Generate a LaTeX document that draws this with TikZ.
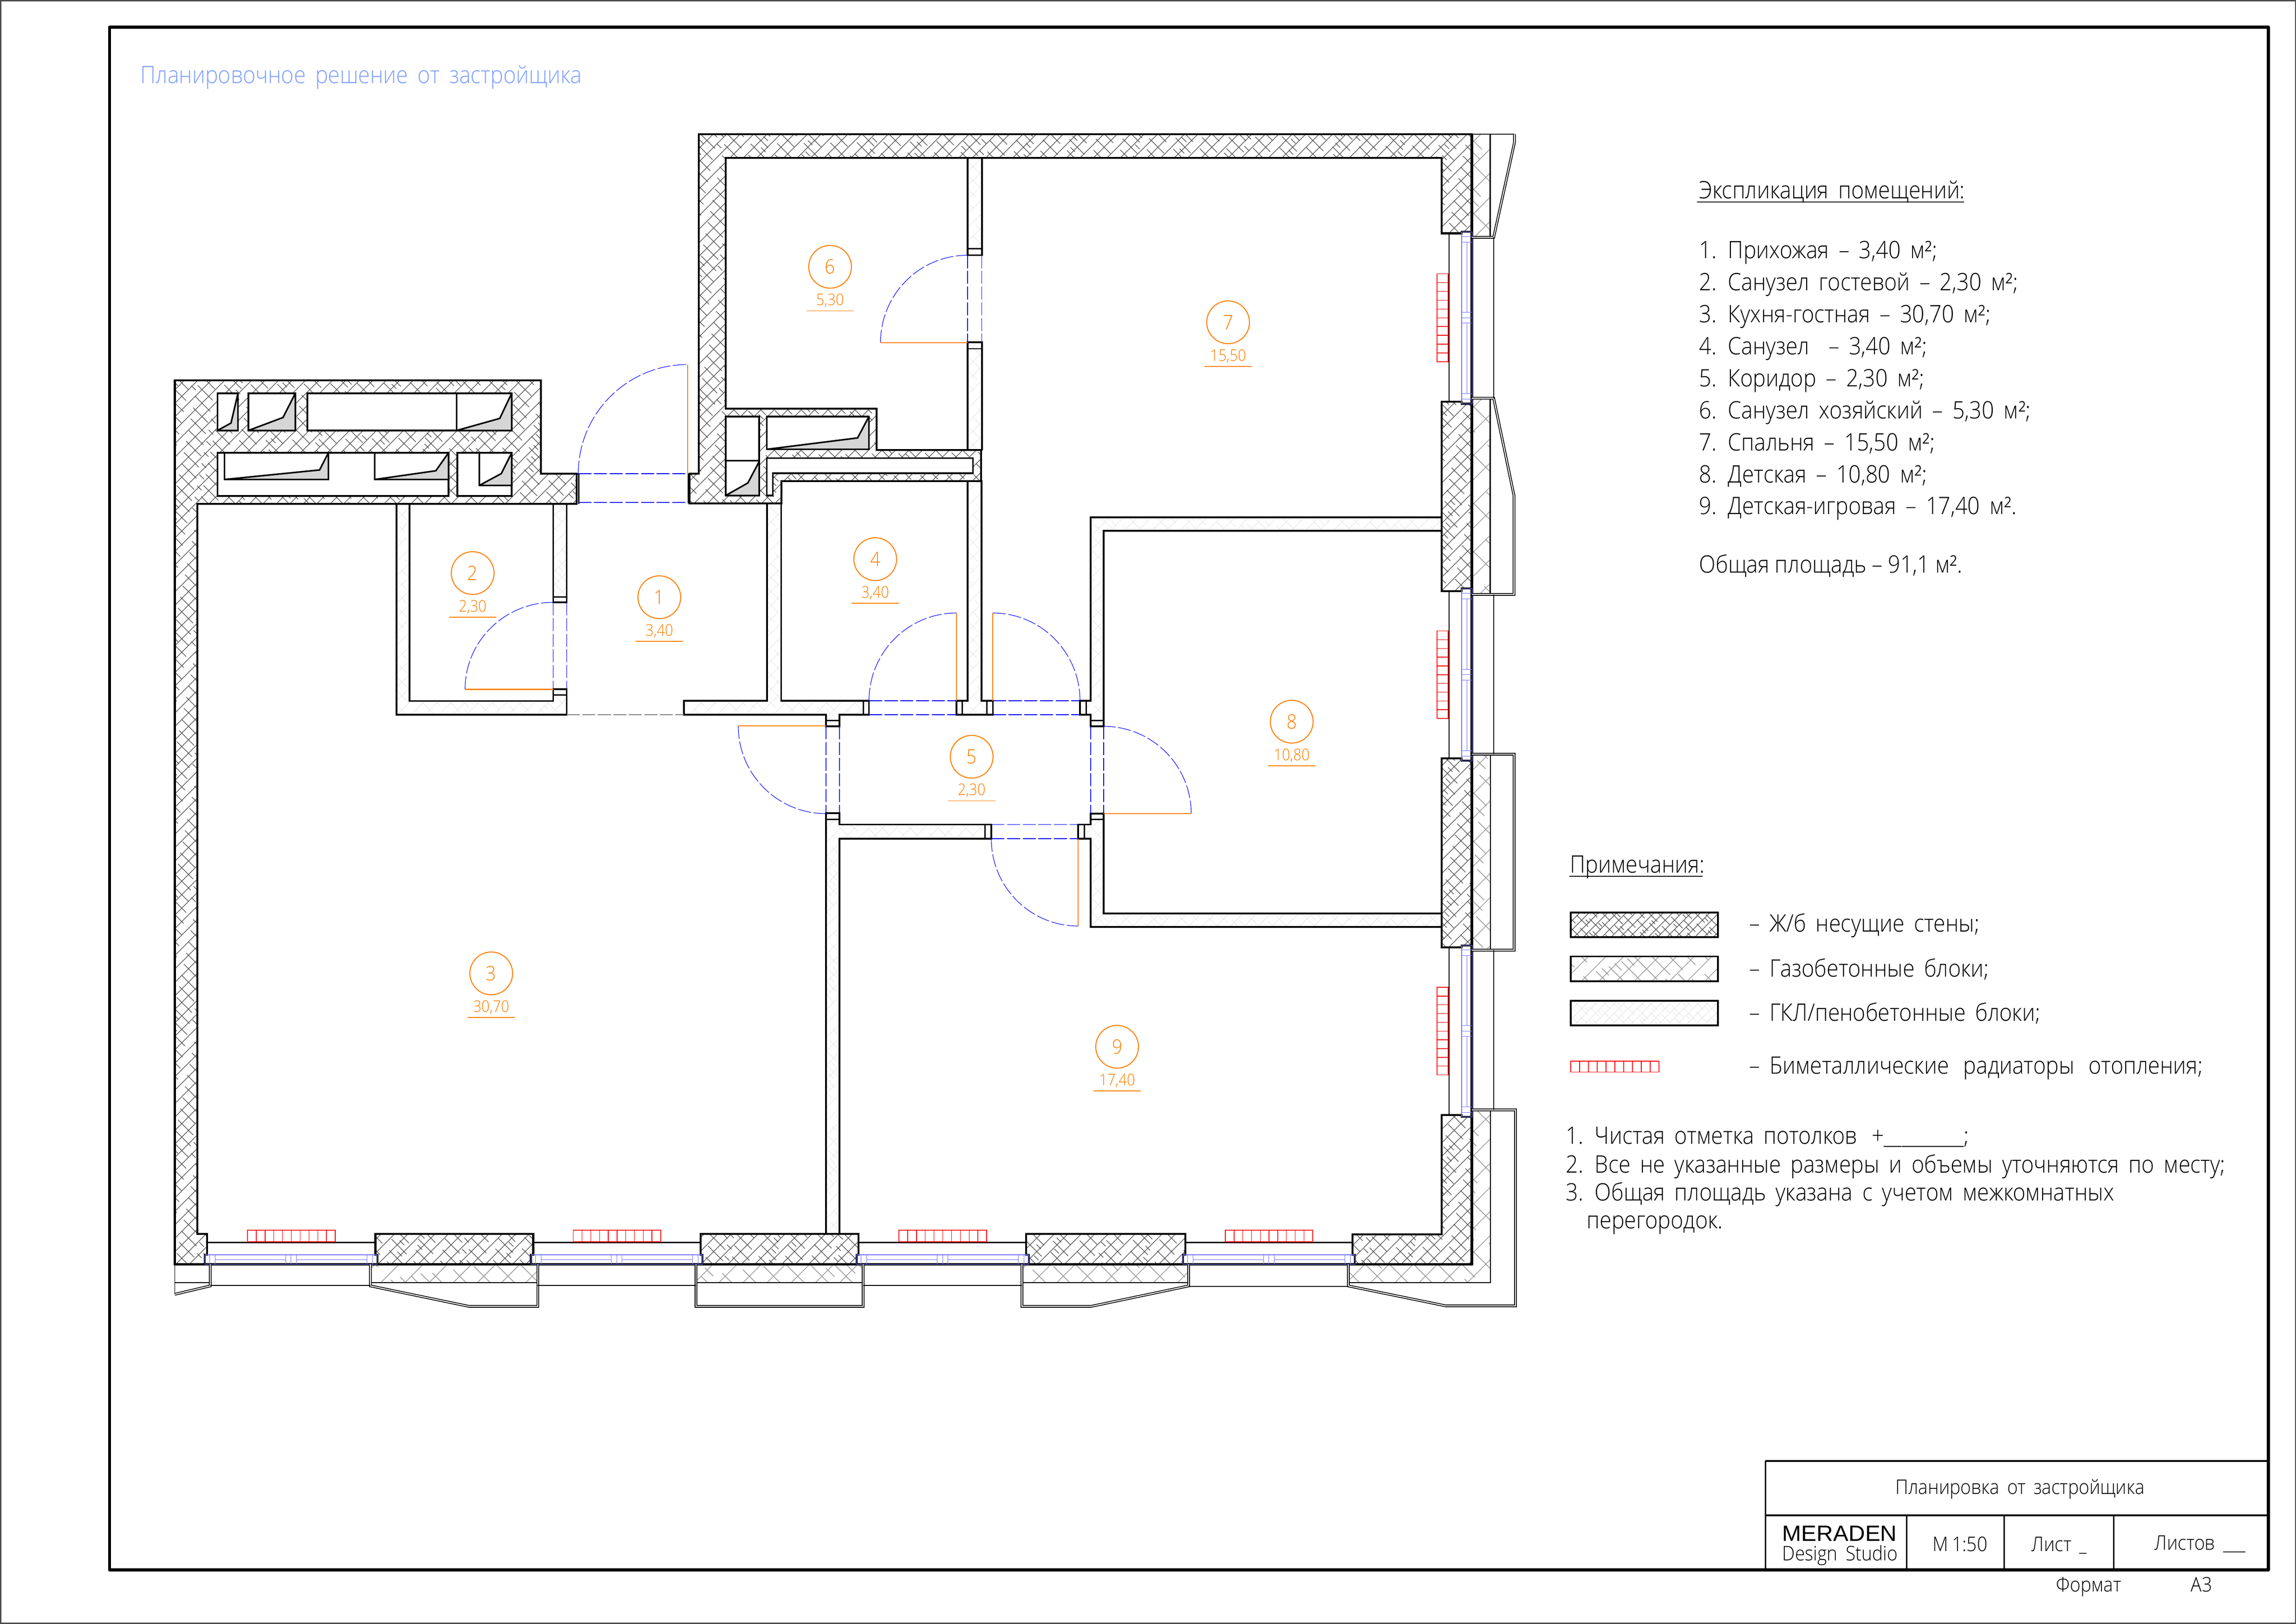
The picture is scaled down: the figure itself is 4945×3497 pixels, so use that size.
\documentclass[tikz,border=0pt]{standalone}
\usepackage{fontspec}
\usetikzlibrary{calc}
\setmainfont{Open Sans}[UprightFont=* Light,FakeStretch=0.9,WordSpace=1.7]
\newfontfamily\merfont{Liberation Sans}[FakeStretch=1.04]
\definecolor{orng}{HTML}{FF7F00}
\definecolor{winblue}{HTML}{7070FF}
\definecolor{dblue}{HTML}{0000FF}
\definecolor{ttlblue}{HTML}{80A0FF}
\tikzset{
  wallline/.style={line width=1.15pt,line join=miter},
  thinwall/.style={line width=1.05pt,line join=miter},
  jamb/.style={line width=.85pt},
  shaft/.style={line width=.95pt,fill=white,line join=miter},
  shade/.style={fill=gray!32,draw=none},
  balc/.style={line width=.5pt,double=white,double distance=.6pt,line join=miter},
  plainln/.style={line width=.55pt,draw=black},
  bandln/.style={line width=.65pt,draw=black},
  opening/.style={line width=.38pt,draw=dblue,dash pattern=on 8pt off 1.6pt},
  swing/.style={line width=.33pt,draw=dblue,dash pattern=on 8pt off 1.6pt},
  leaf/.style={line width=.75pt,draw=orng},
  rad/.style={line width=.4pt,draw=red},
  win/.style={line width=.25pt,draw=winblue},
  win2/.style={line width=.45pt,draw=winblue},
  txt/.style={anchor=base west,inner sep=0pt,font=\fontsize{14.7}{16}\selectfont},
  tbl/.style={anchor=base,inner sep=0pt,font=\fontsize{12.3}{14}\selectfont},
  roomc/.style={circle,draw=orng,line width=.6pt,minimum size=.92cm,inner sep=0pt,text=orng,font=\fontsize{12.2}{14}\selectfont},
  rooma/.style={inner sep=0pt,text=orng,font=\fontsize{9.8}{11}\selectfont},
  roomu/.style={draw=orng,line width=.5pt},
}
% hatching inside a box: x1 y1 x2 y2 spacing dash-on dash-off colour width
\newcommand\hatchbox[9]{%
  \pgfmathtruncatemacro\hn{((#4-#2)+(#3-#1))/#5+1}%
  \foreach \k in {0,...,\hn}{%
    \pgfmathsetmacro\ya{#2+\k*#5}%
    \pgfmathsetmacro\yb{\ya-(#3-#1)}%
    \draw[draw=#8,line width=#9] (#1,\ya)--(#3,\yb);
    \pgfmathsetmacro\yc{#4-\k*#5}%
    \pgfmathsetmacro\yd{\yc+(#3-#1)}%
    \pgfmathsetmacro\ph{mod(\k*17,#6+#7)}%
    \draw[draw=#8,line width=#9,dash pattern=on #6pt off #7pt,dash phase=\ph pt] (#1,\yc)--(#3,\yd);
    \pgfmathsetmacro\ye{\yc+#5/2}%
    \pgfmathsetmacro\yf{\ye+(#3-#1)}%
    \pgfmathsetmacro\tk{0.3*#6}%
    \pgfmathsetmacro\tg{2.2*#6}%
    \draw[draw=#8,line width=#9,dash pattern=on \tk pt off \tg pt,dash phase=\ph pt] (#1,\ye)--(#3,\yf);
  }}
\newcommand\swingarc[6]{\draw[swing] (#1,#2) .. controls ($(#1,#2)!0.5523!(#5,#6)$) and ($(#3,#4)!0.5523!(#5,#6)$) .. (#3,#4);}
\newcommand\radH[4]{%
  \draw[rad] (#1,#3) rectangle (#2,#4);
  \foreach \i in {1,...,9}{\pgfmathsetmacro\xx{#1+\i*(#2-#1)/10}\draw[rad] (\xx,#3)--(\xx,#4);}}
\newcommand\radV[2]{%
  \draw[rad] (3095,#1) rectangle (3119,#2);
  \foreach \i in {1,...,9}{\pgfmathsetmacro\yy{#1+\i*(#2-#1)/10}\draw[rad] (3095,\yy)--(3119,\yy);}}
\newcommand\winS[2]{%
  \pgfmathsetmacro\aa{#1+10}\pgfmathsetmacro\ab{#1+22}\pgfmathsetmacro\ba{#2-10}\pgfmathsetmacro\bb{#2-22}%
  \pgfmathsetmacro\mm{(#1+#2)/2}\pgfmathsetmacro\ma{\mm-11.5}\pgfmathsetmacro\mb{\mm+11.5}%
  \draw[win] (#1,2702) rectangle (#2,2722);
  \draw[win2] (#1,2702)--(#2,2702);
  \foreach \q in {\aa,\ab,\ba,\bb,\ma,\mm,\mb}{\draw[win] (\q,2702)--(\q,2722);}
  \draw[win2] (\ab,2712.5)--(\ma,2712.5) (\mb,2712.5)--(\bb,2712.5);}
\newcommand\winE[2]{%
  \pgfmathsetmacro\aa{#1+10}\pgfmathsetmacro\ab{#1+22}\pgfmathsetmacro\ba{#2-10}\pgfmathsetmacro\bb{#2-22}%
  \pgfmathsetmacro\mm{(#1+#2)/2}\pgfmathsetmacro\ma{\mm-11.5}\pgfmathsetmacro\mb{\mm+11.5}%
  \draw[win] (3148,#1) rectangle (3170,#2);
  \draw[win2] (3148,#1)--(3148,#2);
  \foreach \q in {\aa,\ab,\ba,\bb,\ma,\mm,\mb}{\draw[win] (3148,\q)--(3170,\q);}
  \draw[win] (3159,\ab)--(3159,\ma) (3159,\mb)--(3159,\bb);}
\newcommand\roomlabel[5]{%
  \node[roomc] (room#1) at (#2,#3) {#4};
  \node[rooma] (area#1) at ($(room#1.center)+(0,73)$) {#5};
  \draw[roomu] ($(room#1.center)+(-51,95)$)--($(room#1.center)+(51,95)$);}
% concrete bearing walls
\newcommand\concpath{
 (376.5,819)--(1165,819)--(1165,1020)--(1242,1020)--(1242,1085)--(424.6,1085)--(424.6,2657)--(446,2657)--(446,2702)--(441,2702)--(441,2722.5)--(376.5,2722.5)--cycle
 (1505,289)--(3170,289)--(3170,499)--(3148,499)--(3148,502.5)--(3105,502.5)--(3105,340)--(1563,340)--(1563,879.6)--(1888,879.6)--(1888,968.6)--(2113,968.6)--(2113,1036)--(1682.6,1036)--(1682.6,1084)--(1484.7,1084)--(1484.7,1020)--(1505,1020)--cycle
 (808.5,2657)--(1148.5,2657)--(1148.5,2702)--(1143.5,2702)--(1143.5,2722.5)--(812.6,2722.5)--(812.6,2702)--(808.5,2702)--cycle
 (1509,2657)--(1849,2657)--(1849,2702)--(1844.5,2702)--(1844.5,2722.5)--(1513.3,2722.5)--(1513.3,2702)--(1509,2702)--cycle
 (2210,2657)--(2552.6,2657)--(2552.6,2702)--(2547.8,2702)--(2547.8,2722.5)--(2215.8,2722.5)--(2215.8,2702)--(2210,2702)--cycle
 (2912.7,2658)--(3105,2658)--(3105,2400.7)--(3148,2400.7)--(3148,2405)--(3170,2405)--(3170,2722.5)--(2918,2722.5)--(2918,2702)--(2912.7,2702)--cycle
 (3105,865)--(3148,865)--(3148,869.5)--(3170,869.5)--(3170,1267)--(3148,1267)--(3148,1273.3)--(3105,1273.3)--cycle
 (3105,1632.7)--(3148,1632.7)--(3148,1638)--(3170,1638)--(3170,2035.6)--(3148,2035.6)--(3148,2040)--(3105,2040)--cycle}
% light partitions
\newcommand\gklpath{
 (854,1085)--(882,1085)--(882,1509.6)--(1191.6,1509.6)--(1191.6,1484)--(1220.6,1484)--(1220.6,1539)--(854,1539)--cycle
 (1191.6,1085)--(1220.6,1085)--(1220.6,1297)--(1191.6,1297)--cycle
 (1652,1084)--(1682.6,1084)--(1682.6,1509)--(1871.6,1509)--(1871.6,1539)--(1808,1539)--(1808,1564)--(1779,1564)--(1779,1539)--(1473,1539)--(1473,1509)--(1652,1509)--cycle
 (1779,1751)--(1808,1751)--(1808,1775.5)--(2135,1775.5)--(2135,1806)--(1808,1806)--(1808,2657)--(1779,2657)--cycle
 (2084,1036)--(2114,1036)--(2114,1509)--(2138.6,1509)--(2138.6,1539)--(2060,1539)--(2060,1509)--(2084,1509)--cycle
 (2084,340)--(2114.8,340)--(2114.8,549.6)--(2084,549.6)--cycle
 (2084,737)--(2114.8,737)--(2114.8,968.6)--(2084,968.6)--cycle
 (2349,1114)--(3105,1114)--(3105,1143)--(2377,1143)--(2377,1564)--(2349,1564)--(2349,1539)--(2326,1539)--(2326,1509)--(2349,1509)--cycle
 (2349,1752)--(2377,1752)--(2377,1967)--(3105,1967)--(3105,1996)--(2349,1996)--(2349,1806)--(2322,1806)--(2322,1775.5)--(2349,1775.5)--cycle}
% aerated-block bands
\newcommand\gaspath{
 (3170,289)--(3209.5,289)--(3209.5,509)--(3170,509)--cycle
 (3170,857.5)--(3209.5,857.5)--(3209.5,1277)--(3170,1277)--cycle
 (3170,1626.5)--(3209.5,1626.5)--(3209.5,2044)--(3170,2044)--cycle
 (3170,2392)--(3210,2392)--(3210,2762)--(2904,2762)--(2904,2722.5)--(3170,2722.5)--cycle
 (797.7,2722.5)--(1158.4,2722.5)--(1158.4,2762)--(797.7,2762)--cycle
 (1499,2722.5)--(1859,2722.5)--(1859,2762)--(1499,2762)--cycle
 (2201,2722.5)--(2560,2722.5)--(2560,2762)--(2201,2762)--cycle}
\begin{document}
\begin{tikzpicture}[x=0.01cm,y=-0.01cm]
\path[use as bounding box,fill=white] (0,0) rectangle (4945,3497);
\draw[line width=.6pt,draw=black!70] (1.5,1.5) rectangle (4943.5,3495.5);
\draw[line width=1.85pt,line join=round] (235.8,58.7) rectangle (4885.6,3380.5);
% ---- hatches
\begin{scope}\clip \concpath;
  \hatchbox{376}{289}{3170}{2723}{29}{13}{6}{black!72}{.36pt}
\end{scope}
\begin{scope}\clip \gaspath;
  \hatchbox{797}{289}{3210}{2763}{52}{24}{11}{black!40}{.42pt}
\end{scope}
\begin{scope}\clip \gklpath;
  \hatchbox{854}{340}{3105}{2657}{30}{14}{6}{black!11}{.28pt}
\end{scope}
% ---- wall outlines
\draw[wallline] \concpath;
\draw[thinwall] \gklpath;
\draw[line width=1.5pt] (376.5,2722.5)--(3170,2722.5)--(3170,289);
% ---- shafts
\draw[shaft] (468.5,847) rectangle (512.5,927);
\fill[shade] (468.5,927)--(497.5,911)--(512.5,847)--(512.5,927)--cycle;
\draw[line width=.95pt] (468.5,847) rectangle (512.5,927) (468.5,927)--(497.5,911)--(512.5,847);
\draw[shaft] (535,847) rectangle (636,927);
\fill[shade] (535,927)--(609.5,899)--(636,847)--(636,927)--cycle;
\draw[line width=.95pt] (535,847) rectangle (636,927) (535,927)--(609.5,899)--(636,847);
\draw[shaft] (662,847) rectangle (1102,927);
\fill[shade] (983.5,927)--(1076.3,901)--(1102,847)--(1102,927)--cycle;
\draw[line width=.95pt] (662,847) rectangle (1102,927) (983.5,847)--(983.5,927)--(1076.3,901)--(1102,847);
\draw[shaft] (468.5,975) rectangle (966,1068);
\fill[shade] (483.5,1032.5)--(688.3,1012)--(707.3,975)--(707.3,1032.5)--cycle;
\fill[shade] (807,1032.5)--(938.7,1013.7)--(966,975)--(966,1032.5)--cycle;
\draw[line width=.95pt] (468.5,975) rectangle (966,1068) (483.5,975)--(483.5,1032.5)--(707.3,1032.5)--(707.3,975) (483.5,1032.5)--(688.3,1012)--(707.3,975);
\draw[line width=.95pt] (807,975)--(807,1032.5)--(966,1032.5) (807,1032.5)--(938.7,1013.7)--(966,975);
\draw[shaft] (985,975) rectangle (1102,1068);
\fill[shade] (1032.4,1045.3)--(1079.6,1019.8)--(1102,975)--(1102,1045.3)--cycle;
\draw[line width=.95pt] (985,975) rectangle (1102,1068) (1032.4,975)--(1032.4,1045.3)--(1102,1045.3) (1032.4,1045.3)--(1079.6,1019.8)--(1102,975);
\draw[shaft] (1563,897) rectangle (1635,1067);
\fill[shade] (1563,1067)--(1610.7,1040)--(1635,994)--(1635,1067)--cycle;
\draw[line width=.95pt] (1563,897) rectangle (1635,1067) (1563,992)--(1635,992) (1563,1067)--(1610.7,1040)--(1635,994);
\draw[shaft] (1651.5,897) rectangle (1871.4,967.5);
\fill[shade] (1651.5,967.5)--(1847,943)--(1871.4,897)--(1871.4,967.5)--cycle;
\draw[line width=.95pt] (1651.5,897) rectangle (1871.4,967.5) (1651.5,967.5)--(1847,943)--(1871.4,897);
\draw[shaft] (1651.5,986.4)--(2095.4,986.4)--(2095.4,1019)--(1664.3,1019)--(1664.3,1067)--(1651.5,1067)--cycle;
% ---- jamb ticks
\draw[jamb] (1191.6,1285)--(1220.6,1285) (1191.6,1496)--(1220.6,1496)
 (2084,535.8)--(2114.8,535.8) (2084,751)--(2114.8,751)
 (1859,1509)--(1859,1539) (2072,1509)--(2072,1539) (2125,1509)--(2125,1539) (2339,1509)--(2339,1539)
 (1779,1551)--(1808,1551) (1779,1764)--(1808,1764) (2349,1551)--(2377,1551) (2349,1764)--(2377,1764)
 (2121,1775.5)--(2121,1806) (2335,1775.5)--(2335,1806);
\draw[jamb] (1246,1020)--(1246,1085) (1242,1020)--(1246,1020) (1482,1020)--(1482,1084);
% ---- door openings
\draw[opening] (1245.5,1020)--(1481,1020) (1245.5,1082)--(1481,1082);
\draw[opening] (1191.6,1297)--(1191.6,1484) (1220.6,1297)--(1220.6,1484);
\draw[opening] (2084,549.6)--(2084,737) (2114.8,549.6)--(2114.8,737);
\draw[opening] (1871.6,1509)--(2060,1509) (1871.6,1539)--(2060,1539);
\draw[opening] (2138.6,1509)--(2326,1509) (2138.6,1539)--(2326,1539);
\draw[opening] (1779,1564)--(1779,1751) (1808,1564)--(1808,1751);
\draw[opening] (2349,1564)--(2349,1752) (2377,1564)--(2377,1752);
\draw[opening] (2135,1775.5)--(2322,1775.5) (2135,1806)--(2322,1806);
\draw[line width=.45pt,draw=gray,dash pattern=on 8pt off 1.5pt] (1220.6,1539)--(1473,1539);
% ---- door swings and leaves
\swingarc{1245.5}{1020}{1481}{785}{1245.5}{785}
\swingarc{1001.7}{1484}{1191.6}{1297}{1001.7}{1297}
\swingarc{1896.4}{738}{2084}{549.6}{1896.4}{549.6}
\swingarc{1871.6}{1509}{2060}{1320}{1871.6}{1320}
\swingarc{2138}{1320}{2326}{1509}{2326}{1320}
\swingarc{2565.5}{1752}{2377}{1564}{2565.5}{1564}
\swingarc{1590}{1563}{1779}{1752}{1590}{1752}
\swingarc{2135}{1806}{2322}{1994}{2135}{1994}
\draw[leaf] (1481,785)--(1481,1020) (1001.7,1484.5)--(1191.6,1484.5) (1896.4,738)--(2084,738)
 (2060,1320)--(2060,1509) (2138,1320)--(2138,1509) (2377,1752)--(2565.5,1752)
 (1590,1563)--(1779,1563) (2322,1806)--(2322,1994);
% ---- windows
\winS{441}{812.6}\winS{1143.5}{1513.3}\winS{1844.5}{2215.8}\winS{2547.8}{2918}
\winE{499}{869.5}\winE{1267}{1638}\winE{2035.6}{2405}
% ---- window reveals
\draw[line width=.85pt] (446,2675)--(808.5,2675) (1148.5,2675)--(1509,2675) (1849,2675)--(2210,2675) (2552.6,2675)--(2912.7,2675);
\draw[plainln] (3121,502.5)--(3121,865) (3121,1273.3)--(3121,1632.7) (3121,2040)--(3121,2400.7);
% ---- radiators
\radH{533}{722}{2649}{2674}\radH{1234.7}{1423}{2649}{2674}\radH{1936}{2125}{2649}{2674}\radH{2639}{2827}{2649}{2674}
\radV{589.5}{779}\radV{1358.7}{1547}\radV{2126}{2314.6}
% ---- outside: bands and balconies
\draw[bandln] (3209.5,289)--(3209.5,509) (3209.5,857.5)--(3209.5,1277) (3210,1626.5)--(3210,2044);
\draw[bandln] (3210,2392)--(3210,2762)--(2904,2762);
\draw[bandln] (376.5,2762)--(452.8,2762) (797.7,2762)--(1158.4,2762) (1499,2762)--(1859,2762) (2201,2762)--(2560,2762);
\draw[plainln] (3170,289)--(3261.7,289);
\draw[balc] (3261.7,289)--(3261.7,307)--(3217,511)--(3170,511);
\draw[balc] (3170,857.5)--(3217,857.5)--(3260.7,1067)--(3260.7,1280)--(3170,1280);
\draw[balc] (3170,1624)--(3261,1624)--(3261,2046)--(3170,2046);
\draw[balc] (3170,2390)--(3264,2390)--(3264,2812)--(3114,2812)--(2904,2769)--(2904,2722.5);
\draw[balc] (452.8,2722.5)--(452.8,2769)--(376.5,2787);
\draw[plainln] (376.5,2722.5)--(376.5,2787);
\draw[balc] (797.7,2722.5)--(797.7,2769)--(1010,2813)--(1158.4,2813)--(1158.4,2722.5);
\draw[balc] (1499,2722.5)--(1499,2813)--(1859,2813)--(1859,2722.5);
\draw[balc] (2201,2722.5)--(2201,2813)--(2350,2813)--(2560,2769)--(2560,2722.5);
\draw[plainln] (3217,511)--(3217,857.5) (3217,1280)--(3217,1624) (3217,2046)--(3217,2390);
\draw[line width=.7pt] (452.8,2768)--(797.7,2768) (1158.4,2768)--(1499,2768) (1859,2768)--(2201,2768) (2560,2770)--(2904,2770);
% ---- room labels
\roomlabel{1}{1420}{1286}{1}{3,40}
\roomlabel{2}{1018}{1234}{2}{2,30}
\roomlabel{3}{1058}{2096}{3}{30,70}
\roomlabel{4}{1885}{1204}{4}{3,40}
\roomlabel{5}{2092.7}{1629.5}{5}{2,30}
\roomlabel{6}{1787.8}{574.5}{6}{5,30}
\roomlabel{7}{2645}{694}{7}{15,50}
\roomlabel{8}{2782}{1554}{8}{10,80}
\roomlabel{9}{2406}{2254}{9}{17,40}
% ---- sheet heading
\node[txt,text=ttlblue] (sheettitle) at (302,180) {Планировочное решение от застройщика};
% ---- explication
\node[txt] (exh) at (3659,428) {Экспликация помещений:};
\draw[line width=.5pt] (3654.5,435)--(4230,435);
\node[txt] (ex1) at (3659,556) {1. Прихожая – 3,40 м²;};
\node[txt] (ex2) at (3659,625) {2. Санузел гостевой – 2,30 м²;};
\node[txt] (ex3) at (3659,694) {3. Кухня-гостная – 30,70 м²;};
\node[txt] (ex4) at (3659,763) {4. Санузел \ – 3,40 м²;};
\node[txt] (ex5) at (3659,832) {5. Коридор – 2,30 м²;};
\node[txt] (ex6) at (3659,901) {6. Санузел хозяйский – 5,30 м²;};
\node[txt] (ex7) at (3659,970) {7. Спальня – 15,50 м²;};
\node[txt] (ex8) at (3659,1039) {8. Детская – 10,80 м²;};
\node[txt] (ex9) at (3659,1107) {9. Детская-игровая – 17,40 м².};
\node[txt] (ext) at (3659,1233) {Общая\hspace{-2.5pt} площадь\hspace{-2.5pt} –\hspace{-2.5pt} 91,1\hspace{-2.5pt} м².};
% ---- notes
\node[txt] (nh) at (3381,1879.5) {Примечания:};
\draw[line width=.5pt] (3380,1887)--(3667,1887);
\begin{scope}\clip (3383,1965) rectangle (3700,2018);
  \hatchbox{3383}{1965}{3700}{2018}{20}{10}{4}{black!72}{.36pt}
\end{scope}
\begin{scope}\clip (3383,2059.5) rectangle (3700,2113);
  \hatchbox{3383}{2059.5}{3700}{2113}{38}{20}{8}{black!40}{.42pt}
\end{scope}
\begin{scope}\clip (3383,2155) rectangle (3700,2208);
  \hatchbox{3383}{2155}{3700}{2208}{20}{10}{4}{black!11}{.28pt}
\end{scope}
\draw[thinwall] (3383,1965) rectangle (3700,2018) (3383,2059.5) rectangle (3700,2113) (3383,2155) rectangle (3700,2208);
\radH{3383}{3573}{2285}{2308.6}
\node[txt] (lg1) at (3767,2006) {– Ж/б несущие стены;};
\node[txt] (lg2) at (3767,2103) {– Газобетонные блоки;};
\node[txt] (lg3) at (3767,2198) {– ГКЛ/пенобетонные блоки;};
\node[txt] (lg4) at (3767,2312) {– Биметаллические\hspace{3pt} радиаторы\hspace{3pt} отопления;};
\node[txt] (nt1) at (3372,2463) {1. Чистая отметка потолков\hspace{3pt} +\_\_\_\_\_\_\_\_\_;};
\node[txt] (nt2) at (3372,2525) {2. Все не указанные размеры и объемы уточняются по месту;};
\node[txt] (nt3) at (3372,2585.6) {3. Общая площадь указана с учетом межкомнатных};
\node[txt] (nt4) at (3417,2645) {перегородок.};
% ---- title block
\draw[line width=1pt] (3802,3146)--(4885.6,3146) (3802,3263)--(4885.6,3263);
\draw[line width=.85pt] (3802,3146)--(3802,3380) (4106,3263)--(4106,3380) (4316,3263)--(4316,3380) (4552,3263)--(4552,3380);
\node[tbl] (tb1) at (4350.7,3217) {Планировка от застройщика};
\node[anchor=base west,inner sep=0pt,font=\merfont\fontsize{13.5}{15}\selectfont] (tb2) at (3838,3318) {MERADEN};
\node[tbl,anchor=base west] (tb3) at (3838,3360) {Design Studio};
\node[tbl,anchor=base west] (tb4) at (4161.6,3340) {М\hspace{-2.5pt} 1:50};
\node[tbl,anchor=base west] (tb5) at (4375,3340) {Лист \_};
\node[tbl,anchor=base west] (tb6) at (4640,3337) {Листов \_\_\_};
\node[tbl,anchor=base west] (tb7) at (4428,3427) {Формат};
\node[tbl,anchor=base west] (tb8) at (4718,3427) {А3};
\end{tikzpicture}
\end{document}
